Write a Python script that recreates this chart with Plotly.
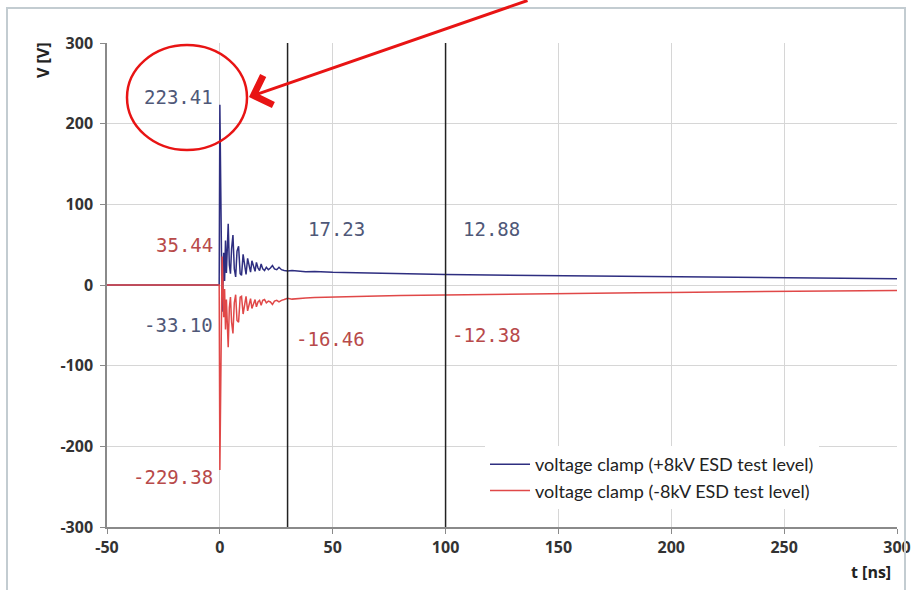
import plotly.graph_objects as go

# Clamp voltage waveforms, time in ns, voltage in V
time_pos = [-50, -0.3, 0.0, 0.15, 0.3, 0.45, 0.7, 1.0, 1.3, 1.7, 2.1, 2.5, 2.9, 3.3, 3.7,
            4.2, 4.7, 5.2, 5.8, 6.4, 7.0, 7.6, 8.3, 9.0, 9.6, 10.3, 11.0, 11.6, 12.3, 13.0,
            13.6, 14.2, 14.9, 15.6, 16.2, 16.9, 17.6, 18.3, 19.0, 19.8, 20.6, 21.5, 22.4,
            23.3, 24.2, 25.2, 26.2, 27.3, 28.5, 30.0, 32, 35, 38, 42, 46, 50, 55, 60, 70,
            80, 90, 100, 110, 125, 140, 155, 170, 185, 200, 215, 230, 245, 260, 275, 290, 300]
volt_pos = [0, 0, 223.41, 180, 142, 138, 70, -33.10, -10, 40, 5, 55, 15, 50, 76,
            25, 14, 45, 62, 20, 10, 42, 48, 14, 12, 38, 22, 13, 33, 25,
            16, 30, 22, 17, 28, 21, 18, 26, 20, 18, 22, 19, 21,
            24, 20, 19, 22, 19, 18, 17.23, 18, 17, 16.5, 16.8, 16, 15.8, 15.6, 15.2, 14.5,
            14, 13.4, 12.88, 12.6, 12.2, 11.8, 11.3, 11, 10.6, 10.2, 9.8, 9.5, 9, 8.6, 8.2, 7.8, 7.6]

time_neg = time_pos
volt_neg = [0, 0, -229.38, -185, -145, -140, -65, 35.44, 8, -40, -5, -55, -18, -52, -77,
            -28, -15, -46, -60, -22, -12, -44, -46, -15, -14, -36, -22, -14, -32, -25,
            -17, -29, -22, -18, -27, -21, -19, -25, -19, -18, -22, -20, -21,
            -24, -20, -19, -21, -19, -18, -16.46, -17.5, -16.5, -16, -15.6, -15.2, -15, -14.5, -14.2, -13.6,
            -13.1, -12.7, -12.38, -12, -11.5, -11, -10.5, -10, -9.6, -9.2, -8.8, -8.4, -8, -7.6, -7.2, -6.9, -6.7]

series_names = ["voltage clamp (+8kV ESD test level)", "voltage clamp (-8kV ESD test level)"]
series_colors = ["#2e2e80", "#e04848"]

# Marker times (vertical cursors)
cursor_times = [30, 100]

# Value labels: (text, t, V, anchor, colour index)
value_labels = [
    ("223.41", -2, 233, "right", 0),
    ("35.44", -2, 50, "right", 1),
    ("-33.10", -2, -50, "right", 0),
    ("17.23", 38, 70, "left", 0),
    ("12.88", 107, 70, "left", 0),
    ("-16.46", 33, -67, "left", 1),
    ("-12.38", 102, -62, "left", 1),
    ("-229.38", -2, -238, "right", 1),
]
label_colors = ["#4f5878", "#b84a4a"]

x_ticks = [-50, 0, 50, 100, 150, 200, 250, 300]
x_tick_text = ["-50", "0", "50", "100", "150", "200", "250", "300"]
y_ticks = [-300, -200, -100, 0, 100, 200, 300]
y_tick_text = ["-300", "-200", "-100", "0", "100", "200", "300"]

fig = go.Figure()
fig.add_trace(go.Scatter(x=time_pos, y=volt_pos, mode="lines", name=series_names[0],
                         line=dict(color=series_colors[0], width=1.5)))
fig.add_trace(go.Scatter(x=time_neg, y=volt_neg, mode="lines", name=series_names[1],
                         line=dict(color=series_colors[1], width=1.5)))

for t in cursor_times:
    fig.add_shape(type="line", xref="x", yref="paper", x0=t, x1=t, y0=0, y1=1,
                  line=dict(color="#222222", width=1.5), layer="above")

for text, t, v, anchor, ci in value_labels:
    fig.add_annotation(x=t, y=v, xref="x", yref="y", text=text, showarrow=False,
                       xanchor=anchor, yanchor="middle",
                       font=dict(family="DejaVu Sans Mono", size=19, color=label_colors[ci]))

# Plot area in pixels: left 107, right 897, top 43, bottom 527
def px(xp):
    return (xp - 107) / 790

def py(yp):
    return (527 - yp) / 484

# Highlight ring and pointer
fig.add_shape(type="circle", xref="paper", yref="paper",
              x0=px(127), x1=px(247), y0=py(150), y1=py(45),
              line=dict(color="#e81414", width=2.5))
fig.add_annotation(xref="paper", yref="paper", x=px(249), y=py(97), ax=280, ay=-100,
                   showarrow=True, arrowhead=4, arrowsize=2, arrowwidth=3,
                   arrowcolor="#e81414", text="")

# Outer frame
fig.add_shape(type="rect", xref="paper", yref="paper",
              x0=px(7), x1=px(905), y0=py(600), y1=py(8),
              line=dict(color="#c3ccd1", width=2))

# Axis titles
fig.add_annotation(xref="paper", yref="paper", x=px(43), y=py(60), text="V [V]",
                   showarrow=False, textangle=-90, xanchor="center", yanchor="middle",
                   font=dict(family="Open Sans", size=16, color="#222", weight="bold"))
fig.add_annotation(xref="paper", yref="paper", x=px(871), y=py(572), text="t [ns]",
                   showarrow=False, xanchor="center", yanchor="middle",
                   font=dict(family="Open Sans", size=16, color="#222", weight="bold"))

axis_common = dict(showgrid=True, gridcolor="#d6d6d6", gridwidth=1,
                   showline=True, linecolor="#8a8a8a", linewidth=1.5,
                   ticks="outside", ticklen=5, tickcolor="#8a8a8a", zeroline=False,
                   automargin=False,
                   tickfont=dict(family="Open Sans", size=16, color="#333", weight="bold"))

fig.update_xaxes(range=[-50, 300], tickvals=x_ticks, ticktext=x_tick_text, **axis_common)
fig.update_yaxes(range=[-300, 300], tickvals=y_ticks, ticktext=y_tick_text,
                 ticklabelstandoff=4, **axis_common)

fig.update_layout(
    width=915, height=590,
    margin=dict(l=107, r=18, t=43, b=63),
    paper_bgcolor="white", plot_bgcolor="white",
    showlegend=True,
    legend=dict(x=px(485), y=py(446), xanchor="left", yanchor="top",
                bgcolor="white", borderwidth=0,
                font=dict(family="Lato", size=18, color="#222"),
                tracegroupgap=0, itemwidth=40),
    font=dict(family="Open Sans"),
)

fig.write_html("out.html")
